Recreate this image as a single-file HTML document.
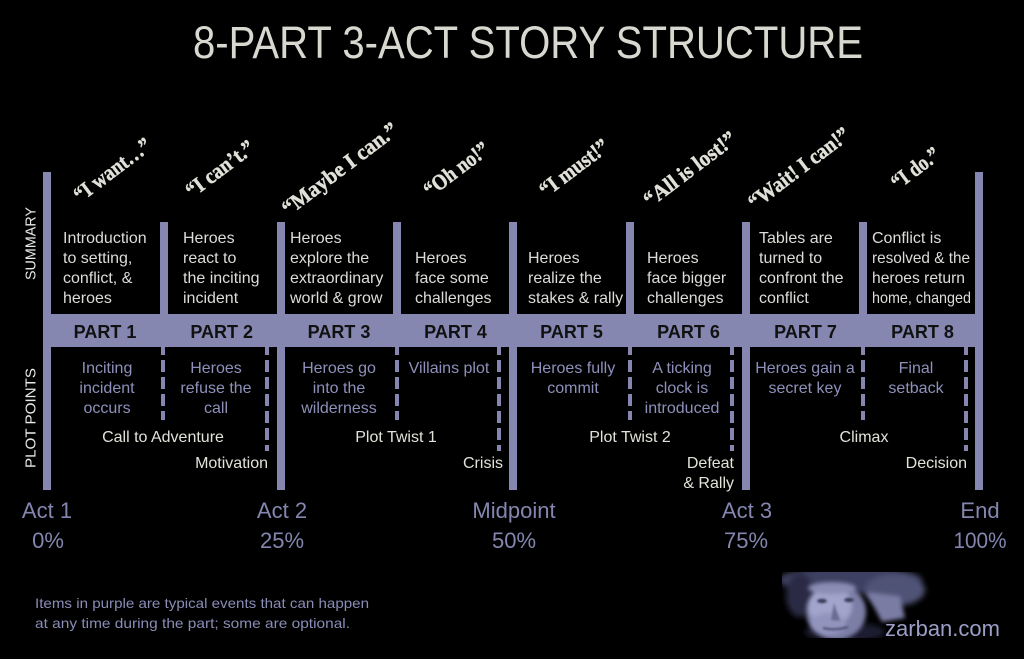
<!DOCTYPE html>
<html>
<head>
<meta charset="utf-8">
<style>
  html, body { margin: 0; padding: 0; background: #000; }
  svg { display: block; }
  .sum { font-family: "Liberation Sans", sans-serif; font-size: 16px; fill: #dcdcd8; }
  .pp { font-family: "Liberation Sans", sans-serif; font-size: 16px; fill: #8e90ba; text-anchor: middle; }
  .lbl { font-family: "Liberation Sans", sans-serif; font-size: 16px; fill: #e2e2da; }
  .part { font-family: "Liberation Sans", sans-serif; font-size: 18px; font-weight: bold; fill: #111; text-anchor: middle; }
  .act { font-family: "Liberation Sans", sans-serif; font-size: 22px; fill: #8486b0; text-anchor: middle; }
  .q { font-family: "Liberation Serif", serif; font-size: 22px; font-weight: bold; fill: #e0e0d8; stroke: #e0e0d8; stroke-width: 0.5; text-anchor: middle; }
  .side { font-family: "Liberation Sans", sans-serif; font-size: 14.5px; fill: #e8e8e8; text-anchor: middle; }
</style>
</head>
<body>
<svg width="1024" height="659" viewBox="0 0 1024 659" xmlns="http://www.w3.org/2000/svg">
  <defs>
    <filter id="blur3" x="-30%" y="-30%" width="160%" height="160%"><feGaussianBlur stdDeviation="3"/></filter>
    <filter id="blur2" x="-30%" y="-30%" width="160%" height="160%"><feGaussianBlur stdDeviation="2"/></filter>
    <filter id="blur1" x="-30%" y="-30%" width="160%" height="160%"><feGaussianBlur stdDeviation="1"/></filter>
    <clipPath id="pclip"><rect x="782" y="572" width="150" height="66"/></clipPath>
  </defs>
  <rect width="1024" height="659" fill="#000"/>

  <!-- Title -->
  <text x="193" y="58" font-family="Liberation Sans, sans-serif" font-size="45" fill="#d8d8d0" textLength="670" lengthAdjust="spacingAndGlyphs">8-PART  3-ACT STORY STRUCTURE</text>

  <!-- Quotes -->
  <g class="q">
    <text x="116.7" y="175.6" transform="rotate(-37 116.7 175.6)" textLength="91" lengthAdjust="spacingAndGlyphs">“I want…”</text>
    <text x="224.2" y="174.6" transform="rotate(-37 224.2 174.6)" textLength="80" lengthAdjust="spacingAndGlyphs">“I can’t.”</text>
    <text x="344.2" y="174.6" transform="rotate(-37 344.2 174.6)" textLength="139" lengthAdjust="spacingAndGlyphs">“Maybe I can.”</text>
    <text x="460.7" y="175.1" transform="rotate(-37 460.7 175.1)" textLength="76" lengthAdjust="spacingAndGlyphs">“Oh no!”</text>
    <text x="578.4" y="173.6" transform="rotate(-37 578.4 173.6)" textLength="81" lengthAdjust="spacingAndGlyphs">“I must!”</text>
    <text x="694.2" y="174.8" transform="rotate(-37 694.2 174.8)" textLength="110" lengthAdjust="spacingAndGlyphs">“All is lost!”</text>
    <text x="803.2" y="174" transform="rotate(-37 803.2 174)" textLength="121" lengthAdjust="spacingAndGlyphs">“Wait! I can!”</text>
    <text x="919.7" y="174" transform="rotate(-37 919.7 174)" textLength="55" lengthAdjust="spacingAndGlyphs">“I do.”</text>
  </g>

  <!-- Side labels -->
  <text class="side" x="35.5" y="243.5" transform="rotate(-90 35.5 243.5)" textLength="73" lengthAdjust="spacingAndGlyphs">SUMMARY</text>
  <text class="side" x="35.5" y="418" transform="rotate(-90 35.5 418)" textLength="100" lengthAdjust="spacingAndGlyphs">PLOT POINTS</text>

  <!-- Dashed lines -->
  <g stroke="#8587b1" stroke-width="4" stroke-dasharray="12 5">
    <line x1="163" y1="343" x2="163" y2="420"/>
    <line x1="267" y1="343" x2="267" y2="451"/>
    <line x1="397" y1="343" x2="397" y2="420"/>
    <line x1="499" y1="343" x2="499" y2="451"/>
    <line x1="630" y1="343" x2="630" y2="420"/>
    <line x1="732" y1="343" x2="732" y2="451"/>
    <line x1="863" y1="343" x2="863" y2="420"/>
    <line x1="966" y1="343" x2="966" y2="451"/>
  </g>

  <!-- Bars -->
  <g fill="#8587b1">
    <rect x="43" y="172" width="8" height="318"/>
    <rect x="975" y="172" width="8" height="318"/>
    <rect x="277" y="222" width="8" height="268"/>
    <rect x="509" y="222" width="8" height="268"/>
    <rect x="742" y="222" width="8" height="268"/>
    <rect x="160" y="222" width="8" height="92"/>
    <rect x="393" y="222" width="8" height="92"/>
    <rect x="626" y="222" width="8" height="92"/>
    <rect x="859" y="222" width="8" height="92"/>
    <rect x="43" y="314" width="940" height="33"/>
  </g>

  <!-- Part labels -->
  <g class="part">
    <text x="105" y="338">PART 1</text>
    <text x="221.7" y="338">PART 2</text>
    <text x="339" y="338">PART 3</text>
    <text x="455.5" y="338">PART 4</text>
    <text x="571.5" y="338">PART 5</text>
    <text x="688.5" y="338">PART 6</text>
    <text x="805.5" y="338">PART 7</text>
    <text x="922.5" y="338">PART 8</text>
  </g>

  <!-- Summary text -->
  <g class="sum">
    <text x="63" y="243">Introduction</text>
    <text x="63" y="263">to setting,</text>
    <text x="63" y="283">conflict, &amp;</text>
    <text x="63" y="303">heroes</text>

    <text x="183" y="243">Heroes</text>
    <text x="183" y="263">react to</text>
    <text x="183" y="283">the inciting</text>
    <text x="183" y="303">incident</text>

    <text x="290" y="243">Heroes</text>
    <text x="290" y="263">explore the</text>
    <text x="290" y="283">extraordinary</text>
    <text x="290" y="303">world &amp; grow</text>

    <text x="415" y="263">Heroes</text>
    <text x="415" y="283">face some</text>
    <text x="415" y="303">challenges</text>

    <text x="528" y="263">Heroes</text>
    <text x="528" y="283">realize the</text>
    <text x="528" y="303">stakes &amp; rally</text>

    <text x="647" y="263">Heroes</text>
    <text x="647" y="283">face bigger</text>
    <text x="647" y="303">challenges</text>

    <text x="759" y="243">Tables are</text>
    <text x="759" y="263">turned to</text>
    <text x="759" y="283">confront the</text>
    <text x="759" y="303">conflict</text>

    <text x="872" y="243">Conflict is</text>
    <text x="872" y="263" textLength="98" lengthAdjust="spacingAndGlyphs">resolved &amp; the</text>
    <text x="872" y="283" textLength="93" lengthAdjust="spacingAndGlyphs">heroes return</text>
    <text x="872" y="303" textLength="99" lengthAdjust="spacingAndGlyphs">home, changed</text>
  </g>

  <!-- Plot point purple text -->
  <g class="pp">
    <text x="107" y="373">Inciting</text>
    <text x="107" y="393">incident</text>
    <text x="107" y="413">occurs</text>

    <text x="216" y="373">Heroes</text>
    <text x="216" y="393">refuse the</text>
    <text x="216" y="413">call</text>

    <text x="339" y="373">Heroes go</text>
    <text x="339" y="393">into the</text>
    <text x="339" y="413">wilderness</text>

    <text x="449" y="373">Villains plot</text>

    <text x="573" y="373">Heroes fully</text>
    <text x="573" y="393">commit</text>

    <text x="682" y="373">A ticking</text>
    <text x="682" y="393">clock is</text>
    <text x="682" y="413">introduced</text>

    <text x="805" y="373">Heroes gain a</text>
    <text x="805" y="393">secret key</text>

    <text x="916" y="373">Final</text>
    <text x="916" y="393">setback</text>
  </g>

  <!-- Plot point light labels -->
  <g class="lbl">
    <text x="163" y="442" text-anchor="middle">Call to Adventure</text>
    <text x="268" y="468" text-anchor="end">Motivation</text>
    <text x="396" y="442" text-anchor="middle">Plot Twist 1</text>
    <text x="503" y="468" text-anchor="end">Crisis</text>
    <text x="630" y="442" text-anchor="middle">Plot Twist 2</text>
    <text x="734" y="468" text-anchor="end">Defeat</text>
    <text x="734" y="488" text-anchor="end">&amp; Rally</text>
    <text x="864" y="442" text-anchor="middle">Climax</text>
    <text x="967" y="468" text-anchor="end">Decision</text>
  </g>

  <!-- Act labels -->
  <g class="act">
    <text x="47" y="518">Act 1</text>
    <text x="48" y="548">0%</text>
    <text x="282" y="518">Act 2</text>
    <text x="282" y="548">25%</text>
    <text x="514" y="518">Midpoint</text>
    <text x="514" y="548">50%</text>
    <text x="747" y="518">Act 3</text>
    <text x="746" y="548">75%</text>
    <text x="980" y="518">End</text>
    <text x="980" y="548" textLength="53" lengthAdjust="spacingAndGlyphs">100%</text>
  </g>

  <!-- Footnote -->
  <g font-family="Liberation Sans, sans-serif" font-size="14" fill="#8a8cb6">
    <text x="35" y="608" textLength="334" lengthAdjust="spacingAndGlyphs">Items in purple are typical events that can happen</text>
    <text x="35" y="628" textLength="315" lengthAdjust="spacingAndGlyphs">at any time during the part; some are optional.</text>
  </g>

  <!-- Portrait -->
  <g clip-path="url(#pclip)">
    <g filter="url(#blur3)">
      <ellipse cx="850" cy="580" rx="72" ry="14" fill="#3e4060"/>
      <ellipse cx="800" cy="595" rx="14" ry="22" fill="#2a2c44"/>
      <ellipse cx="895" cy="590" rx="30" ry="16" fill="#505276"/>
      <ellipse cx="845" cy="632" rx="40" ry="10" fill="#1c1d30"/>
    </g>
    <g filter="url(#blur2)">
      <path d="M866 592 L900 596 L905 618 L882 622 Z" fill="#7a7ca4"/>
      <ellipse cx="836" cy="612" rx="30" ry="28" fill="#7c7ea6"/>
      <ellipse cx="830" cy="606" rx="22" ry="20" fill="#a2a4cc"/>
      <ellipse cx="828" cy="624" rx="18" ry="11" fill="#9294be"/>
      <ellipse cx="832" cy="588" rx="24" ry="6" fill="#8a8cb4"/>
    </g>
    <g filter="url(#blur1)">
      <ellipse cx="822" cy="601" rx="5" ry="2.2" fill="#3a3c58"/>
      <ellipse cx="849" cy="600" rx="5" ry="2.2" fill="#3a3c58"/>
      <path d="M834 603 L831 620 L840 621 Z" fill="#6a6c92"/>
      <path d="M823 628 Q835 631 848 627" stroke="#4a4c6a" stroke-width="2" fill="none"/>
    </g>
  </g>
  <text x="885" y="636" font-family="Liberation Sans, sans-serif" font-size="22" fill="#9c9ec8" textLength="115" lengthAdjust="spacingAndGlyphs">zarban.com</text>
</svg>
</body>
</html>
